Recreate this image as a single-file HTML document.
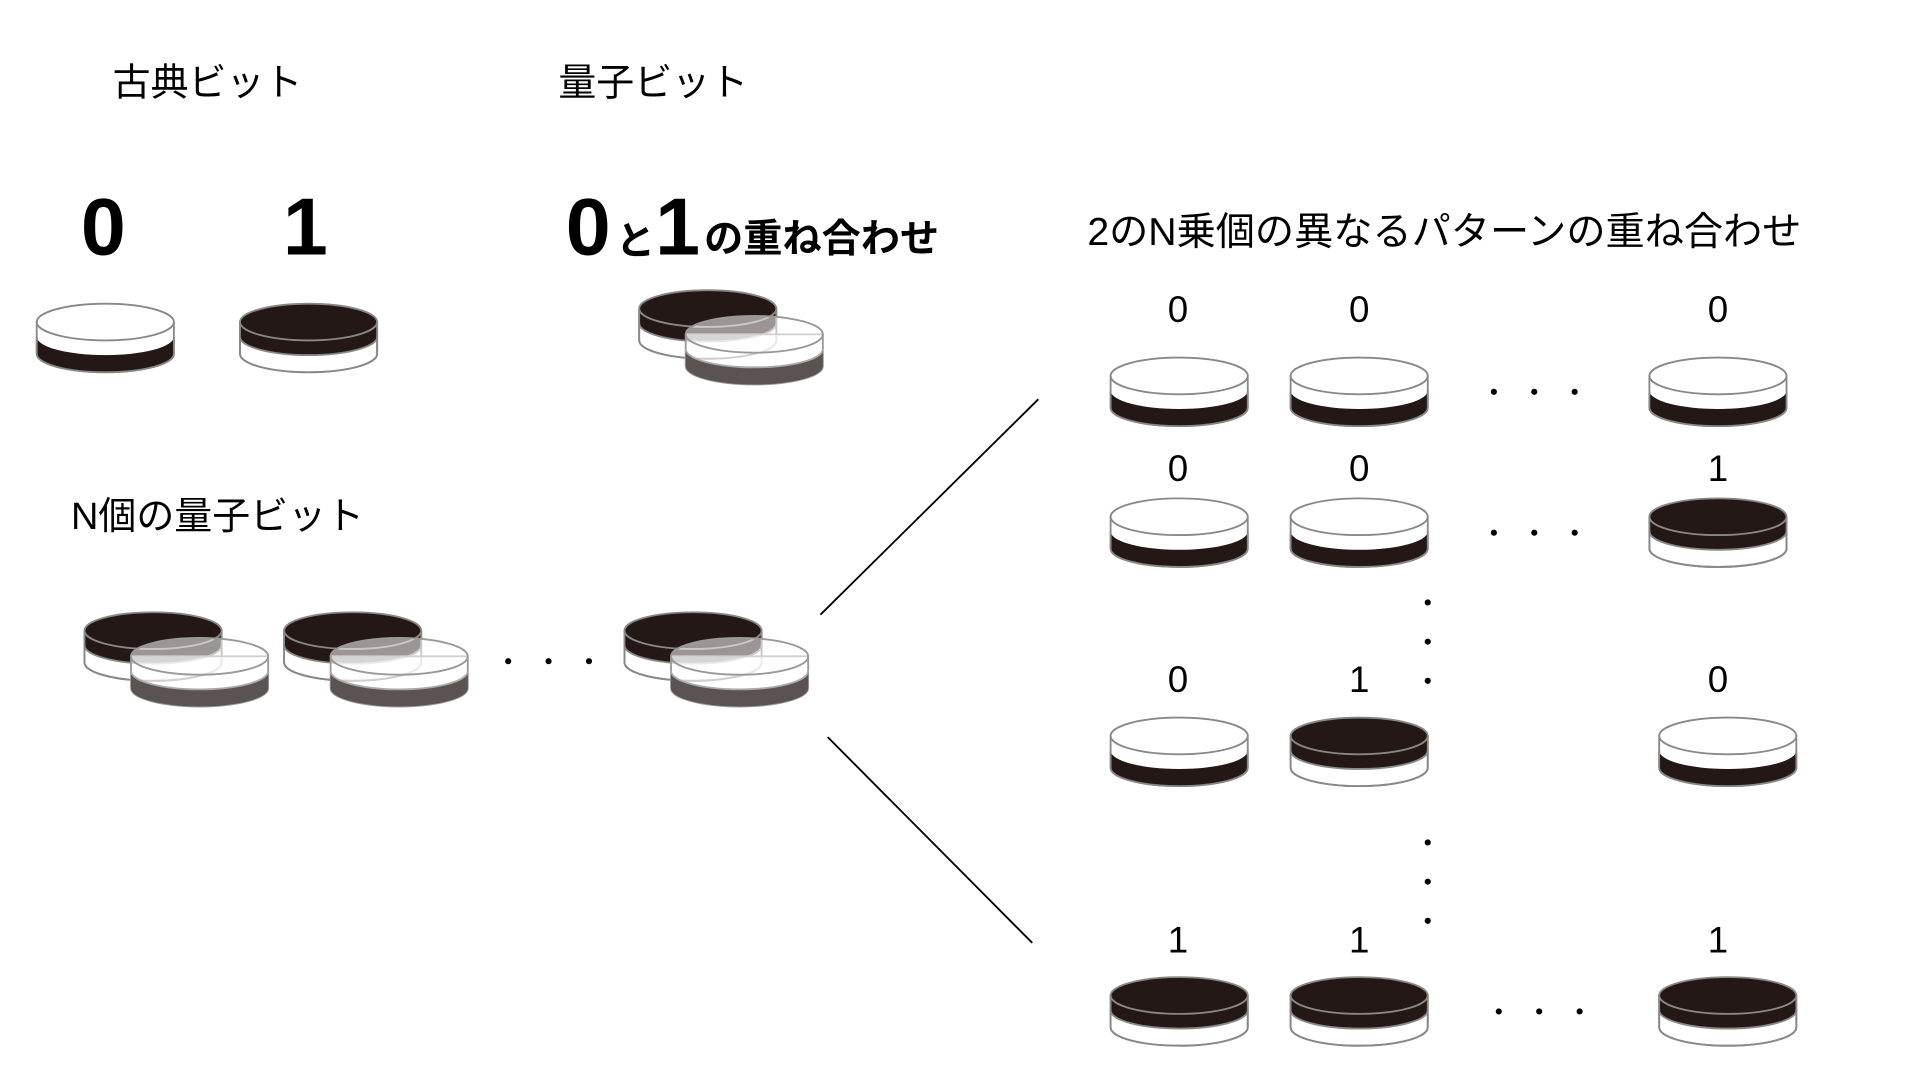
<!DOCTYPE html>
<html><head><meta charset="utf-8"><style>
html,body{margin:0;padding:0;background:#fff;width:1920px;height:1080px;overflow:hidden}
svg{display:block}
text{font-family:"Liberation Sans","Noto Sans CJK JP",sans-serif;fill:#000}
</style></head><body>
<svg width="1920" height="1080" viewBox="0 0 1568 882" preserveAspectRatio="none" xmlns="http://www.w3.org/2000/svg">
<defs>
<g id="c0">
<path d="M0,15 L0,41 A56,15 0 0 0 112,41 L112,15 Z" fill="#fff" stroke="#888" stroke-width="1.5"/>
<path d="M0,27 A56,15 0 0 0 112,27 L112,41 A56,15 0 0 1 0,41 Z" fill="#231815"/>
<path d="M0,27 L0,41 A56,15 0 0 0 112,41 L112,27" fill="none" stroke="#888" stroke-width="1.5"/>
<ellipse cx="56" cy="15" rx="56" ry="15" fill="#fff" stroke="#888" stroke-width="1.5"/>
</g>
<g id="c1">
<path d="M0,15 L0,41 A56,15 0 0 0 112,41 L112,15 Z" fill="#fff" stroke="#888" stroke-width="1.5"/>
<path d="M0,15 L0,27 A56,15 0 0 0 112,27 L112,15 Z" fill="#231815"/>
<path d="M0,27 A56,15 0 0 0 112,27" fill="none" stroke="#888" stroke-width="1.5"/>
<path d="M0,15 L0,41 A56,15 0 0 0 112,41 L112,15" fill="none" stroke="#888" stroke-width="1.5"/>
<ellipse cx="56" cy="15" rx="56" ry="15" fill="#231815" stroke="#888" stroke-width="1.5"/>
</g>
<g id="cs">
<path d="M0,15 L0,41 A56,15 0 0 0 112,41 L112,15 Z" fill="#fff" fill-opacity="0.6" stroke="#999" stroke-width="1.5"/>
<path d="M0,27 A56,15 0 0 0 112,27 L112,41 A56,15 0 0 1 0,41 Z" fill="#5a5351"/>
<path d="M0,27 A56,15 0 0 0 112,27" fill="none" stroke="#aaa" stroke-width="1.5"/>
<ellipse cx="56" cy="15" rx="56" ry="15" fill="#fff" fill-opacity="0.55" stroke="#999" stroke-width="1.5"/>
</g>
<g id="pair">
<use href="#c1" x="0" y="0"/>
<use href="#cs" x="38" y="21"/>
</g>
</defs>

<text x="92" y="78" font-size="31">古典ビット</text>
<text x="456" y="78" font-size="31">量子ビット</text>
<text x="66" y="208" font-size="66" font-weight="bold">0</text>
<text x="231" y="208" font-size="66" font-weight="bold">1</text>
<text x="462" y="208" font-size="66" font-weight="bold">0</text>
<text x="503" y="208" font-size="32" font-weight="bold">と</text>
<text x="535" y="208" font-size="66" font-weight="bold">1</text>
<text x="575" y="206" font-size="32" font-weight="bold">の重ね合わせ</text>

<use href="#c0" x="30" y="248"/>
<use href="#c1" x="196" y="248"/>
<use href="#pair" x="522" y="237"/>

<text x="58" y="432" font-size="31">N個の量子ビット</text>
<use href="#pair" x="69" y="500"/>
<use href="#pair" x="232" y="500"/>
<use href="#pair" x="510" y="500"/>
<g fill="#000">
<circle cx="415" cy="540" r="2.5"/><circle cx="448" cy="540" r="2.5"/><circle cx="481" cy="540" r="2.5"/>
</g>

<line x1="670" y1="502" x2="848" y2="326" stroke="#000" stroke-width="1.5"/>
<line x1="676" y1="602" x2="843" y2="770" stroke="#000" stroke-width="1.5"/>

<text x="888" y="200" font-size="32">2のN乗個の異なるパターンの重ね合わせ</text>

<g font-size="30">
<text x="962" y="263" text-anchor="middle">0</text><text x="1110" y="263" text-anchor="middle">0</text><text x="1403" y="263" text-anchor="middle">0</text>
<text x="962" y="393" text-anchor="middle">0</text><text x="1110" y="393" text-anchor="middle">0</text><text x="1403" y="393" text-anchor="middle">1</text>
<text x="962" y="565" text-anchor="middle">0</text><text x="1110" y="565" text-anchor="middle">1</text><text x="1403" y="565" text-anchor="middle">0</text>
<text x="962" y="778" text-anchor="middle">1</text><text x="1110" y="778" text-anchor="middle">1</text><text x="1403" y="778" text-anchor="middle">1</text>
</g>

<use href="#c0" x="907" y="292"/><use href="#c0" x="1054" y="292"/><use href="#c0" x="1347" y="292"/>
<use href="#c0" x="907" y="407"/><use href="#c0" x="1054" y="407"/><use href="#c1" x="1347" y="407"/>
<use href="#c0" x="907" y="586"/><use href="#c1" x="1054" y="586"/><use href="#c0" x="1355" y="586"/>
<use href="#c1" x="907" y="798"/><use href="#c1" x="1054" y="798"/><use href="#c1" x="1355" y="798"/>

<g fill="#000">
<circle cx="1220" cy="320" r="2.5"/><circle cx="1253" cy="320" r="2.5"/><circle cx="1286" cy="320" r="2.5"/>
<circle cx="1220" cy="435" r="2.5"/><circle cx="1253" cy="435" r="2.5"/><circle cx="1286" cy="435" r="2.5"/>
<circle cx="1224" cy="826" r="2.5"/><circle cx="1257" cy="826" r="2.5"/><circle cx="1290" cy="826" r="2.5"/>
<circle cx="1166" cy="492" r="2.5"/><circle cx="1166" cy="524" r="2.5"/><circle cx="1166" cy="556" r="2.5"/>
<circle cx="1166" cy="688" r="2.5"/><circle cx="1166" cy="720" r="2.5"/><circle cx="1166" cy="752" r="2.5"/>
</g>
</svg>
</body></html>
